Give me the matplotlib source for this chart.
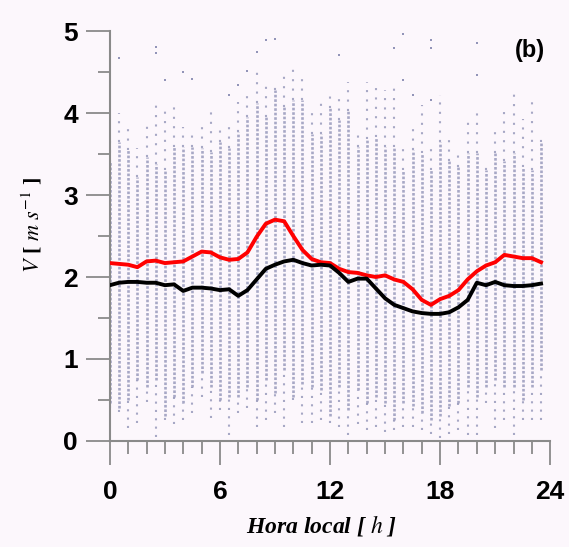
"""
Diurnal wind speed: half-hourly scatter columns with mean (red) and median (black).
Output: out.png
"""
import matplotlib
matplotlib.use('Agg')
import matplotlib.pyplot as plt
from matplotlib.ticker import MultipleLocator

# half-hour bins
hours = [0.0, 0.5, 1.0, 1.5, 2.0, 2.5, 3.0, 3.5, 4.0, 4.5, 5.0, 5.5,
         6.0, 6.5, 7.0, 7.5, 8.0, 8.5, 9.0, 9.5, 10.0, 10.5, 11.0, 11.5,
         12.0, 12.5, 13.0, 13.5, 14.0, 14.5, 15.0, 15.5, 16.0, 16.5, 17.0, 17.5,
         18.0, 18.5, 19.0, 19.5, 20.0, 20.5, 21.0, 21.5, 22.0, 22.5, 23.0, 23.5]

# extent of the observations in each bin (sparse tails + dense core)
col_top = [3.70, 4.00, 3.83, 3.57, 3.87, 4.14, 4.10, 4.10, 3.83, 3.73, 3.85, 4.08,
           3.82, 3.89, 4.14, 4.30, 4.53, 4.40, 4.38, 4.53, 4.55, 4.44, 4.08, 4.16,
           4.26, 4.26, 4.38, 3.77, 4.38, 4.36, 4.28, 4.32, 3.63, 3.89, 4.10, 3.57,
           4.22, 3.73, 3.53, 3.95, 4.02, 3.41, 3.85, 4.10, 4.28, 3.93, 4.14, 3.71]
col_core_hi = [3.40, 3.65, 3.55, 3.22, 3.47, 3.38, 3.30, 3.59, 3.59, 3.59, 3.57, 3.53,
               3.65, 3.57, 3.77, 3.95, 4.12, 3.95, 4.28, 4.08, 4.16, 4.16, 3.75, 3.75,
               4.06, 3.91, 4.02, 3.59, 3.69, 3.71, 3.59, 3.59, 3.30, 3.55, 3.51, 3.30,
               3.65, 3.42, 3.34, 3.51, 3.51, 3.30, 3.51, 3.42, 3.51, 3.34, 3.30, 3.65]
col_core_lo = [0.46, 0.40, 0.50, 0.74, 0.66, 0.74, 0.30, 0.54, 0.46, 0.66, 0.83, 0.66,
               0.50, 0.54, 0.54, 0.66, 0.50, 0.74, 0.58, 0.87, 0.54, 0.70, 0.66, 0.62,
               0.30, 0.66, 0.38, 0.62, 0.46, 0.54, 0.46, 0.26, 0.46, 0.42, 0.34, 0.26,
               0.30, 0.42, 0.46, 0.66, 0.54, 0.66, 0.74, 0.66, 0.66, 0.50, 0.66, 0.87]
col_bottom = [0.40, 0.35, 0.16, 0.22, 0.48, 0.05, 0.26, 0.20, 0.26, 0.34, 0.54, 0.28,
              0.38, 0.07, 0.34, 0.40, 0.17, 0.26, 0.34, 0.17, 0.50, 0.22, 0.22, 0.26,
              0.22, 0.17, 0.07, 0.20, 0.13, 0.17, 0.11, 0.13, 0.17, 0.17, 0.13, 0.09,
              0.03, 0.09, 0.13, 0.07, 0.07, 0.46, 0.16, 0.26, 0.07, 0.26, 0.26, 0.26]

# isolated high values
outlier_hours = [0.5, 2.5, 2.5, 3.0, 4.0, 4.5, 6.5, 7.0, 7.5, 8.0, 8.5,
                 9.0, 12.5, 15.5, 16.0, 16.0, 16.5, 17.5, 17.5, 17.5, 20.0, 20.0]
outlier_values = [4.67, 4.81, 4.73, 4.40, 4.50, 4.42, 4.22, 4.34, 4.52, 4.75, 4.89,
                  4.91, 4.71, 4.79, 4.97, 4.40, 4.22, 4.89, 4.79, 4.16, 4.85, 4.46]

# mean and median speed per bin (m/s)
mean_speed = [2.17, 2.16, 2.15, 2.12, 2.19, 2.20, 2.17, 2.18, 2.19, 2.25, 2.31, 2.30,
              2.24, 2.21, 2.22, 2.30, 2.49, 2.65, 2.70, 2.68, 2.50, 2.33, 2.22, 2.18,
              2.17, 2.10, 2.06, 2.05, 2.02, 2.00, 2.02, 1.97, 1.94, 1.85, 1.72, 1.66,
              1.73, 1.77, 1.84, 1.97, 2.07, 2.14, 2.18, 2.27, 2.25, 2.23, 2.23, 2.18]
median_speed = [1.90, 1.93, 1.94, 1.94, 1.93, 1.93, 1.90, 1.91, 1.83, 1.87, 1.87, 1.86,
                1.84, 1.85, 1.77, 1.84, 1.97, 2.10, 2.15, 2.19, 2.21, 2.17, 2.14, 2.15,
                2.14, 2.05, 1.94, 1.98, 1.98, 1.86, 1.74, 1.66, 1.62, 1.58, 1.56, 1.55,
                1.55, 1.57, 1.63, 1.72, 1.93, 1.90, 1.94, 1.90, 1.89, 1.89, 1.90, 1.92]

BG = '#fcf7fc'
DOT = '#9294b8'
AXIS = '#8a8a8a'


def main():
    fig = plt.figure(figsize=(5.69, 5.47), dpi=100, facecolor=BG)
    ax = fig.add_axes([0.193, 0.194, 0.774, 0.749])
    ax.set_facecolor(BG)

    # scatter columns: sparse tails, dense core, isolated points
    ax.vlines(hours, col_core_hi, col_top, colors=DOT, linewidth=1.5,
              linestyles=(0, (1, 3.5)), alpha=0.8, zorder=1)
    ax.vlines(hours, col_bottom, col_core_lo, colors=DOT, linewidth=1.5,
              linestyles=(0, (1, 3.0)), alpha=0.8, zorder=1)
    ax.vlines(hours, col_core_lo, col_core_hi, colors=DOT, linewidth=1.9,
              linestyles=(0, (1, 0.7)), alpha=0.8, zorder=1)
    ax.plot(outlier_hours, outlier_values, 's', color=DOT, markersize=1.8,
            markeredgewidth=0, zorder=1)

    ax.plot(hours, mean_speed, color='#ff0000', linewidth=2.8, zorder=3)
    ax.plot(hours, median_speed, color='black', linewidth=2.8, zorder=4)

    ax.set_xlim(0, 24)
    ax.set_ylim(0, 5)
    for side in ('top', 'right'):
        ax.spines[side].set_visible(False)
    for side in ('left', 'bottom'):
        ax.spines[side].set_color(AXIS)
        ax.spines[side].set_linewidth(1.5)

    ax.xaxis.set_major_locator(MultipleLocator(6))
    ax.xaxis.set_minor_locator(MultipleLocator(1))
    ax.yaxis.set_major_locator(MultipleLocator(1))
    ax.yaxis.set_minor_locator(MultipleLocator(0.5))
    ax.tick_params(which='major', length=17, width=1.3, color=AXIS)
    ax.tick_params(which='minor', length=9, width=1.3, color=AXIS)
    ax.tick_params(axis='y', which='major', pad=6)
    ax.tick_params(axis='x', which='major', pad=11)
    for lbl in ax.get_xticklabels() + ax.get_yticklabels():
        lbl.set_fontfamily('Liberation Sans')
        lbl.set_fontweight('bold')
        lbl.set_fontsize(19)

    ax.text(0.955, 0.954, '(b)', transform=ax.transAxes, ha='center', va='center',
            fontfamily='Liberation Sans', fontweight='bold', fontsize=17)

    plt.rcParams['mathtext.fontset'] = 'stix'
    fig.text(322 / 569, 1 - 525 / 547, 'Hora local [ $h$ ]', ha='center', va='center',
             fontfamily='Liberation Serif', fontstyle='italic', fontweight='bold',
             fontsize=17)
    fig.text(32 / 569, 1 - 225 / 547, r'$V$ [ $m\ s^{-1}$ ]', ha='center', va='center',
             rotation=90, fontfamily='Liberation Serif', fontweight='bold', fontsize=16)

    fig.savefig('out.png', dpi=100, facecolor=BG)


if __name__ == '__main__':
    main()
